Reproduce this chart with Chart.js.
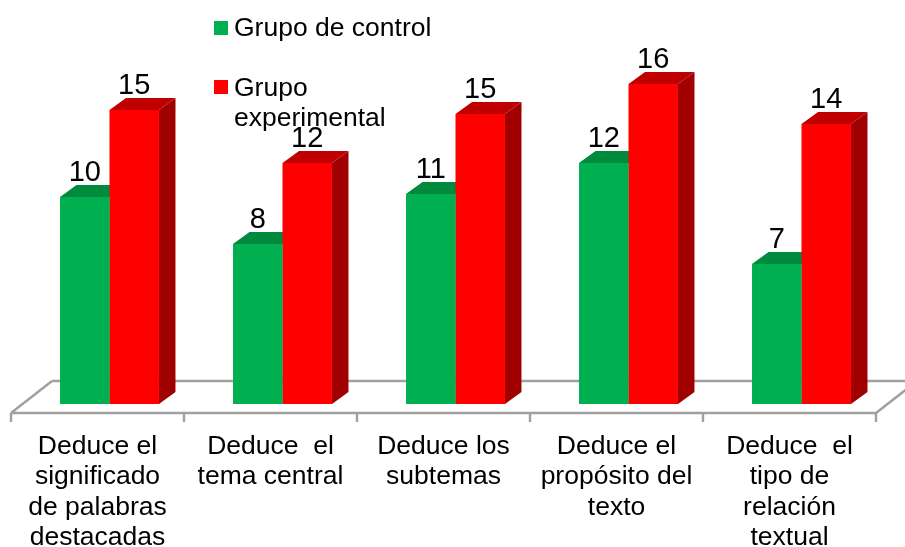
<!DOCTYPE html>
<html>
<head>
<meta charset="utf-8">
<style>html,body{margin:0;padding:0;background:#fff}canvas{display:block}</style>
<script src="https://cdn.jsdelivr.net/npm/chart.js@4"></script>
</head>
<body>
<canvas id="c" width="905" height="547"></canvas>
<script>
const categories = [
  ["Deduce el", "significado", "de palabras", "destacadas"],
  ["Deduce  el", "tema central"],
  ["Deduce los", "subtemas"],
  ["Deduce el", "propósito del", "texto"],
  ["Deduce  el", "tipo de", "relación", "textual"]
];
const controlName = "Grupo de control";
const experimentalName = "Grupo experimental";
const controlHeights = [10.35, 8, 10.5, 12.05, 7];
const experimentalHeights = [14.7, 12.05, 14.5, 16, 14];
const controlLabels = ["10", "8", "11", "12", "7"];
const experimentalLabels = ["15", "12", "15", "16", "14"];

const FONT = '"Liberation Sans", Arial, sans-serif';
const DX = 16.5, DY = 12;
const faces = {
  0: {front: "#00B050", top: "#008A3E", side: "#007A37"},
  1: {front: "#FF0000", top: "#C00000", side: "#A00000"}
};

const poly = (ctx, pts, fill) => {
  ctx.beginPath();
  pts.forEach((p, i) => i ? ctx.lineTo(p[0], p[1]) : ctx.moveTo(p[0], p[1]));
  ctx.closePath();
  ctx.fillStyle = fill;
  ctx.fill();
};

const threeD = {
  id: "threeD",
  beforeDatasetsDraw(chart) {
    const ctx = chart.ctx, xs = chart.scales.x, area = chart.chartArea;
    const step = xs.getPixelForTick(1) - xs.getPixelForTick(0);
    const left = xs.getPixelForTick(0) - step / 2 - 12;
    const right = left + step * categories.length;
    const fy = area.bottom + 9, by = area.bottom - 23, dep = 41;
    ctx.save();
    ctx.strokeStyle = "#A0A0A0";
    ctx.lineWidth = 2.4;
    ctx.beginPath();
    ctx.moveTo(left + dep, by); ctx.lineTo(905, by);
    ctx.moveTo(left, fy); ctx.lineTo(left + dep, by);
    ctx.moveTo(left, fy); ctx.lineTo(right, fy);
    ctx.moveTo(right, fy); ctx.lineTo(right + dep, by);
    for (let i = 0; i <= categories.length; i++) {
      ctx.moveTo(left + step * i, fy); ctx.lineTo(left + step * i, fy + 9);
    }
    ctx.stroke();
    chart.data.datasets.forEach((ds, d) => {
      chart.getDatasetMeta(d).data.forEach(bar => {
        const h = bar.width / 2, x0 = bar.x - h, x1 = bar.x + h, t = bar.y, b = bar.base;
        poly(ctx, [[x1, t], [x1 + DX, t - DY], [x1 + DX, b - DY], [x1, b]], faces[d].side);
        poly(ctx, [[x0, t], [x0 + DX, t - DY], [x1 + DX, t - DY], [x1, t]], faces[d].top);
      });
    });
    ctx.restore();
  },
  afterDatasetsDraw(chart) {
    const ctx = chart.ctx;
    ctx.save();
    ctx.fillStyle = "#000";
    ctx.textAlign = "center";
    ctx.textBaseline = "alphabetic";
    ctx.font = "29px " + FONT;
    const labelSets = [controlLabels, experimentalLabels];
    chart.data.datasets.forEach((ds, d) => {
      chart.getDatasetMeta(d).data.forEach((bar, i) => {
        ctx.fillText(labelSets[d][i], bar.x, bar.y - 16.5);
      });
    });
    // legend
    ctx.textAlign = "left";
    ctx.font = "26.5px " + FONT;
    ctx.fillStyle = faces[0].front;
    ctx.fillRect(214, 21, 14, 14);
    ctx.fillStyle = faces[1].front;
    ctx.fillRect(214, 80, 14, 14);
    ctx.fillStyle = "#000";
    ctx.fillText(controlName, 234, 36);
    const parts = experimentalName.split(" ");
    ctx.fillText(parts[0], 234, 96);
    ctx.fillText(parts[1], 234, 126);
    ctx.restore();
  }
};

new Chart(document.getElementById("c"), {
  type: "bar",
  data: {
    labels: categories,
    datasets: [
      {label: controlName, data: controlHeights, backgroundColor: faces[0].front},
      {label: experimentalName, data: experimentalHeights, backgroundColor: faces[1].front}
    ]
  },
  plugins: [threeD],
  options: {
    responsive: false,
    animation: false,
    layout: {padding: {left: 23, right: 17, top: 4, bottom: 0}},
    plugins: {legend: {display: false}, tooltip: {enabled: false}},
    datasets: {bar: {categoryPercentage: 0.572, barPercentage: 1}},
    scales: {
      y: {display: false, min: 0, max: 20},
      x: {
        grid: {display: false},
        border: {display: false},
        afterFit(s) { s.height = 143; },
        ticks: {
          color: "#000",
          font: {family: FONT, size: 26.5, lineHeight: 1.15},
          labelOffset: -12,
          padding: 19,
          maxRotation: 0,
          minRotation: 0,
          autoSkip: false
        }
      }
    }
  }
});
</script>
</body>
</html>
